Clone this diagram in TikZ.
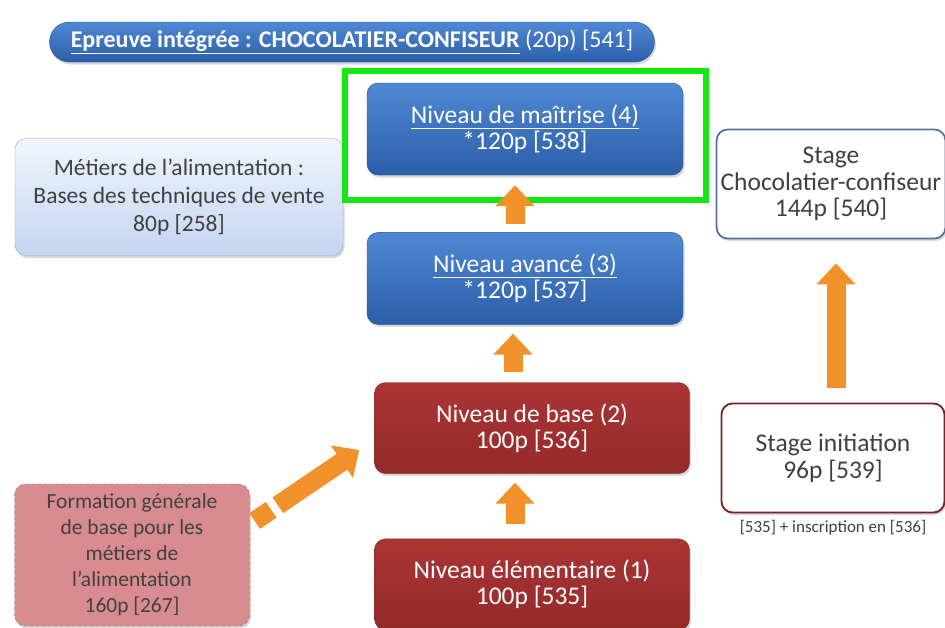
\documentclass[tikz,border=0pt]{standalone}
\usepackage{fontspec}
\setmainfont{Carlito}
\usetikzlibrary{positioning, shadows, arrows.meta}

\definecolor{bleuhaut}{HTML}{4F88D4}
\definecolor{bleubas}{HTML}{2C5EA8}
\definecolor{bleubord}{HTML}{2A4F8C}
\definecolor{rougehaut}{HTML}{AB3535}
\definecolor{rougebas}{HTML}{942A2A}
\definecolor{rougebord}{HTML}{7A2020}
\definecolor{clairhaut}{HTML}{F1F5FC}
\definecolor{clairbas}{HTML}{C4D5F1}
\definecolor{clairbord}{HTML}{8FA7CF}
\definecolor{rose}{HTML}{D98C8F}
\definecolor{rosebord}{HTML}{8A5C5F}
\definecolor{orangefl}{HTML}{F1912A}
\definecolor{gristexte}{HTML}{404040}
\definecolor{vertcadre}{HTML}{14E614}

\newcommand{\boitefont}{\fontsize{25.5}{26.5}\selectfont}

\begin{document}
\begin{tikzpicture}[
	x=1pt, y=-1pt,
	>={Triangle[width=38pt,length=21pt]},
	every node/.style={align=center},
	boite/.style={rounded corners=11pt, inner sep=4pt, font=\boitefont,
		drop shadow={opacity=0.3, shadow xshift=1.5pt, shadow yshift=-2.5pt}},
	bleu/.style={boite, draw=bleubord, top color=bleuhaut, bottom color=bleubas,
		text=white, minimum width=316pt, minimum height=92pt},
	rouge/.style={boite, draw=rougebord, top color=rougehaut, bottom color=rougebas,
		text=white, minimum width=315pt, minimum height=91pt},
	clair/.style={boite, draw=clairbord, top color=clairhaut, bottom color=clairbas,
		text=gristexte, minimum width=328pt, minimum height=117pt,
		font=\fontsize{23.5}{28}\selectfont},
	pointille/.style={boite, draw=rosebord, dashed, fill=rose, text=gristexte,
		minimum width=235pt, minimum height=142pt, font=\fontsize{21.5}{26}\selectfont},
	stage/.style={boite, fill=white, text=gristexte, line width=1.8pt,
		minimum width=223pt, minimum height=109pt},
	fleche/.style={->, line width=19pt, draw=orangefl}
]

\useasboundingbox[fill=white] (0,0) rectangle (945,627);

% titre
\node[boite, rounded corners=20pt, draw=bleubord, top color=bleuhaut, bottom color=bleubas,
	text=white, minimum width=605pt, minimum height=40pt, font=\fontsize{24}{26}\selectfont]
	(epreuve) at (352,42)
	{\underline{\textbf{Epreuve intégrée : CHOCOLATIER-CONFISEUR}} (20p) [541]};

% colonne centrale
\node[bleu] (maitrise) at (525,129) {\underline{Niveau de maîtrise (4)}\\*120p [538]};
\node[bleu] (avance) [below=57pt of maitrise] {\underline{Niveau avancé (3)}\\*120p [537]};
\node[rouge] (base) at (532,428) {Niveau de base (2)\\100p [536]};
\node[rouge] (elementaire) [below=65pt of base] {Niveau élémentaire (1)\\100p [535]};

% a gauche
\node[clair] (vente) at (179,197) {Métiers de l’alimentation :\\Bases des techniques de vente\\80p [258]};
\node[pointille] (formation) at (132,555) {Formation générale\\de base pour les\\métiers de\\l’alimentation\\160p [267]};

% a droite
\node[stage, draw=bleubord!80] (chocolatier) at (831,184) {Stage\\Chocolatier-confiseur\\144p [540]};
\node[stage, draw=rougebord] (initiation) at (833,458) {Stage initiation\\96p [539]};
\node[inner sep=0pt, text=gristexte, font=\fontsize{17}{18}\selectfont]
	(inscription) [below=7pt of initiation] {[535] + inscription en [536]};

% cadre vert
\draw[vertcadre, line width=6pt] (345,71) rectangle (706,200);

% fleches
\draw[fleche, shorten <=8pt, shorten >=10pt] ([xshift=-10pt]avance.north) -- ([xshift=-10pt]maitrise.south);
\draw[fleche, shorten <=10pt, shorten >=9pt] ([xshift=-19pt]base.north) -- ([xshift=-12pt]avance.south);
\draw[fleche, shorten <=15pt, shorten >=9pt] ([xshift=-17pt]elementaire.north) -- ([xshift=-17pt]base.south);
\draw[fleche, shorten <=15pt, shorten >=24pt] ([xshift=3pt]initiation.north) -- ([xshift=5pt]chocolatier.south);
\draw[fleche, dash pattern=on 20pt off 8pt on 300pt]
	([xshift=5pt,yshift=34pt]formation.east) -- ([xshift=-15pt,yshift=-22pt]base.west);

\end{tikzpicture}
\end{document}
